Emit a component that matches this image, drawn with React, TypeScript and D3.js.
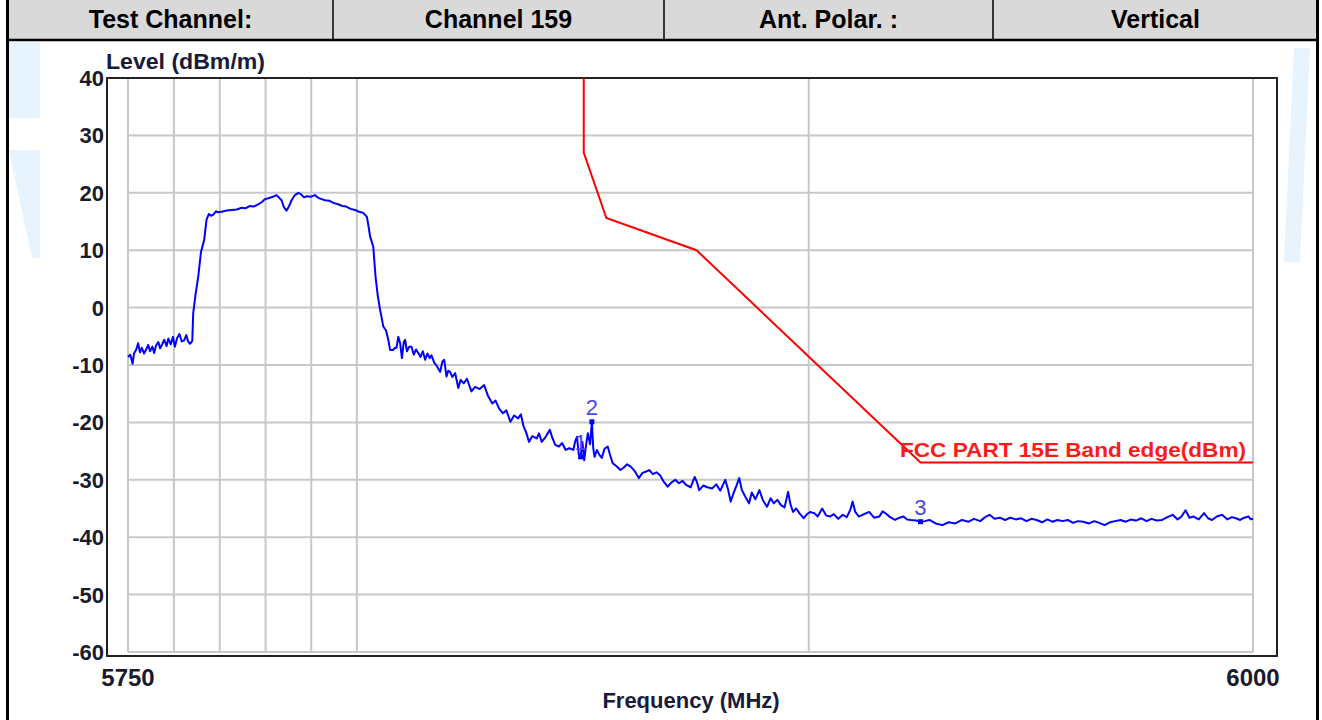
import React from 'react';
import * as d3 from 'd3';

// header row of the test report
const headerCells = ['Test Channel:', 'Channel 159', 'Ant. Polar. :', 'Vertical'];

// axis ticks
const levelTicks = [40, 30, 20, 10, 0, -10, -20, -30, -40, -50, -60];
const freqGrid = [5750, 5760, 5770, 5780, 5790, 5800, 5900, 6000];
const freqLabels = [5750, 6000];

// FCC part 15E band edge limit (dBm)
const limitLine = [
  [5850, 60], [5850, 27], [5855, 15.6], [5875, 10], [5925, -27], [6000, -27],
];

const lowerBand = [
  [5750.0, -8.6], [5750.5, -8.2], [5751.0, -9.8], [5751.3, -8.0], [5751.8, -7.3], [5752.2, -6.2],
  [5752.6, -7.8], [5753.0, -7.0], [5753.5, -8.0], [5754.0, -7.2], [5754.4, -6.5], [5754.8, -7.6],
  [5755.3, -6.8], [5755.7, -7.9], [5756.1, -6.6], [5756.6, -6.0], [5757.0, -7.1], [5757.5, -6.3],
  [5757.9, -5.6], [5758.4, -6.7], [5758.8, -5.4], [5759.3, -6.4], [5759.8, -5.1], [5760.2, -6.8],
  [5760.7, -5.3], [5761.2, -4.6], [5761.7, -5.9], [5762.2, -5.7], [5762.7, -4.8], [5763.1, -5.9],
  [5763.5, -6.3], [5764.0, -5.8], [5764.2, -1.0], [5764.7, 2.2], [5765.3, 5.4], [5765.9, 9.7],
  [5766.6, 11.8], [5767.1, 15.3], [5767.6, 16.3], [5768.1, 16.0], [5768.6, 16.2], [5769.2, 16.8],
];

const channelTop = [
  [5769.5, 16.6], [5770.4, 16.7], [5771.5, 16.9], [5772.6, 17.0], [5773.7, 17.1], [5774.8, 17.4],
  [5775.6, 17.3], [5776.5, 17.7], [5777.4, 17.6], [5778.4, 18.0], [5779.2, 18.4], [5779.9, 18.9],
  [5780.8, 19.1], [5781.6, 19.3], [5782.4, 19.6], [5782.9, 19.2], [5783.5, 18.7], [5784.0, 17.5],
  [5784.6, 16.9], [5785.1, 17.6], [5785.7, 18.7], [5786.4, 19.6], [5787.2, 20.0], [5787.8, 19.7],
  [5788.4, 19.2], [5789.0, 19.4], [5789.9, 19.3], [5790.8, 19.6], [5791.6, 19.1], [5792.3, 18.9],
  [5793.0, 18.7], [5794.0, 18.6], [5795.0, 18.2], [5795.9, 18.0], [5796.8, 17.7], [5797.7, 17.6],
  [5798.6, 17.2], [5799.6, 17.0], [5800.5, 16.7], [5801.4, 16.5], [5802.2, 15.8], [5802.6, 14.0],
  [5802.9, 12.4], [5803.3, 11.4], [5803.6, 10.6], [5804.1, 5.4], [5804.6, 2.0], [5805.1, -0.4],
  [5805.5, -2.0], [5805.8, -3.3],
];

const upperSkirt = [
  [5806.4, -4.0], [5806.9, -5.6], [5807.3, -7.4], [5807.9, -7.4], [5808.4, -7.0], [5808.7, -7.0],
  [5809.1, -5.1], [5809.5, -6.2], [5809.9, -8.8], [5810.3, -6.0], [5810.6, -5.6], [5811.0, -7.6],
  [5811.5, -6.8], [5812.0, -6.8], [5812.5, -8.2], [5813.0, -7.3], [5813.5, -7.9], [5814.0, -8.6],
  [5814.5, -7.6], [5815.0, -9.1], [5815.5, -8.0], [5816.0, -8.8], [5816.4, -8.3], [5817.0, -9.6],
  [5817.6, -10.2], [5818.3, -11.2], [5818.8, -9.4], [5819.2, -9.1], [5819.7, -12.0], [5820.1, -11.0],
  [5820.5, -11.2], [5821.0, -12.1], [5821.6, -11.4], [5822.3, -14.0], [5822.8, -12.6], [5823.5, -13.2],
  [5824.2, -12.4], [5825.2, -14.6], [5826.0, -13.8], [5827.0, -14.2], [5828.0, -13.5], [5828.8, -15.3],
  [5829.8, -16.7], [5830.5, -16.2], [5831.3, -17.6], [5832.1, -18.4], [5832.9, -17.9], [5833.8, -19.9],
  [5834.6, -18.8], [5835.5, -19.3], [5836.1, -18.6], [5836.7, -20.7], [5837.3, -21.8], [5837.9, -23.4],
  [5838.6, -22.4], [5839.6, -22.8], [5840.1, -21.9], [5840.7, -23.4], [5841.5, -22.6], [5842.5, -21.3],
  [5843.1, -22.8], [5843.7, -23.9], [5844.5, -24.2], [5845.2, -23.6], [5846.0, -24.8], [5846.8, -24.5],
  [5847.7, -24.8], [5848.1, -23.3], [5848.5, -22.5], [5848.9, -25.6], [5849.3, -26.0], [5849.7, -23.4],
  [5850.1, -26.6], [5850.5, -24.0], [5850.9, -21.9], [5851.4, -23.8], [5851.8, -19.9], [5852.1, -24.5],
  [5852.4, -26.0], [5852.9, -24.8], [5853.5, -25.7], [5854.0, -26.2], [5854.6, -24.6], [5855.3, -24.2],
  [5855.8, -25.6], [5856.4, -27.1], [5857.2, -27.6], [5858.1, -28.3], [5858.8, -27.9], [5859.6, -27.3],
  [5860.4, -27.7], [5861.3, -28.5], [5862.2, -29.7], [5863.0, -28.8], [5863.7, -28.6], [5864.5, -28.3],
  [5865.3, -29.0], [5866.1, -28.7], [5866.9, -29.2], [5867.7, -30.3], [5868.6, -31.2], [5869.4, -30.5],
  [5870.3, -30.0], [5871.1, -30.6], [5871.9, -30.2], [5872.7, -30.9], [5873.7, -31.3], [5874.6, -29.5],
  [5875.1, -30.4], [5875.6, -31.8], [5876.5, -31.0], [5877.4, -31.3], [5878.5, -31.5], [5879.4, -30.8],
  [5880.3, -31.9], [5881.4, -30.0], [5882.0, -31.6], [5882.6, -33.8], [5883.2, -32.4], [5883.9, -31.0],
  [5884.5, -29.7], [5885.1, -31.8], [5885.9, -33.0], [5886.7, -34.1], [5887.3, -32.2], [5888.1, -33.4],
  [5889.0, -31.8], [5889.8, -33.6], [5890.7, -34.7], [5891.5, -33.2], [5892.2, -34.1], [5893.0, -33.5],
  [5893.8, -34.4], [5894.6, -34.8], [5895.4, -32.1], [5895.9, -34.2], [5896.5, -35.6], [5897.2, -35.0],
  [5898.0, -35.9], [5898.9, -36.7], [5899.6, -36.0],
];

const noiseFloor = [
  [5900.3, -35.6], [5901.2, -35.8], [5902.0, -36.4], [5903.0, -35.0], [5903.9, -36.2], [5904.7, -36.4],
  [5905.6, -36.0], [5906.6, -36.8], [5907.6, -36.1], [5908.5, -36.5], [5909.3, -35.2], [5909.8, -33.8],
  [5910.4, -35.6], [5911.2, -36.4], [5912.3, -36.0], [5913.5, -35.6], [5914.6, -36.6], [5915.8, -36.4],
  [5916.5, -35.5], [5917.1, -35.8], [5918.2, -36.5], [5919.3, -37.0], [5920.3, -36.6], [5921.2, -36.4],
  [5922.0, -36.9], [5922.9, -37.0], [5924.0, -37.1], [5925.0, -37.3], [5926.0, -37.2], [5927.0, -37.0],
  [5928.4, -37.6], [5929.9, -37.9], [5931.3, -37.4], [5932.8, -37.6], [5934.3, -37.0], [5935.8, -37.3],
  [5937.0, -36.8], [5938.4, -37.2], [5939.5, -36.5], [5940.5, -36.1], [5941.6, -36.8], [5942.8, -36.6],
  [5944.0, -37.0], [5945.2, -36.6], [5946.4, -36.9], [5947.6, -36.7], [5948.8, -37.2], [5949.9, -36.8],
  [5951.1, -37.0], [5952.3, -37.4], [5953.5, -36.9], [5954.6, -37.3], [5955.8, -37.0], [5957.0, -37.2],
  [5958.1, -37.0], [5959.3, -37.5], [5960.4, -37.2], [5961.6, -37.3], [5962.9, -37.6], [5964.1, -37.2],
  [5965.2, -37.5], [5966.4, -37.9], [5967.6, -37.4], [5968.8, -37.2], [5970.0, -37.0], [5971.2, -37.3],
  [5972.4, -36.9], [5973.5, -37.1], [5974.7, -36.7], [5975.9, -37.2], [5977.0, -36.8], [5978.2, -37.1],
  [5979.4, -37.0], [5980.6, -36.5], [5981.8, -36.1], [5982.9, -36.9], [5983.8, -36.4], [5984.7, -35.3],
  [5985.6, -36.6], [5986.5, -36.4], [5987.7, -36.9], [5988.9, -35.8], [5989.8, -36.7], [5990.7, -37.0],
  [5991.8, -36.4], [5993.0, -36.1], [5994.2, -36.9], [5995.2, -36.5], [5996.1, -36.7], [5997.1, -37.0],
  [5998.0, -36.6], [5999.0, -36.4], [5999.5, -36.9], [6000.0, -36.8],
];

const markers = [
  { label: '1', f: 5849.3, v: -26.0 },
  { label: '2', f: 5851.8, v: -19.9 },
  { label: '3', f: 5925.0, v: -37.3 },
];

const FONT = 'Arial, "Liberation Sans", sans-serif';

export default function App() {
  const width = 1322;
  const height = 720;
  const plot = { left: 128, right: 1253, top: 78, bottom: 652 };

  const x = d3.scaleLog().domain([5750, 6000]).range([plot.left, plot.right]);
  const y = d3.scaleLinear().domain([-60, 40]).range([plot.bottom, plot.top]);

  const trace = [...lowerBand, ...channelTop, ...upperSkirt, ...noiseFloor];
  const line = d3.line().x(d => x(d[0])).y(d => y(d[1]));

  const colX = [8, 333, 664, 993, 1318];

  return (
    <svg width={width} height={height} style={{ position: 'absolute', left: 0, top: 0, background: '#fff' }}
      fontFamily={FONT}>
      {/* watermark */}
      <polygon points="9,42 40,42 40,118 9,118" fill="#e8f4fd" />
      <polygon points="9,150 40,150 40,258 32,258" fill="#e8f4fd" />
      <polygon points="1294,48 1310,48 1300,262 1284,262" fill="#e8f4fd" />

      {/* header table */}
      <rect x={8} y={0} width={1310} height={40} fill="#d9d9d9" />
      <line x1={8} x2={1318} y1={40} y2={40} stroke="#000" strokeWidth={2.5} />
      {colX.slice(1, 4).map(cx => (
        <line key={cx} x1={cx} x2={cx} y1={0} y2={40} stroke="#000" strokeWidth={1.5} />
      ))}
      {headerCells.map((t, i) => (
        <text key={t} x={(colX[i] + colX[i + 1]) / 2} y={28} textAnchor="middle"
          fontSize={25} fontWeight="bold" fill="#000">{t}</text>
      ))}
      <line x1={7.5} x2={7.5} y1={0} y2={height} stroke="#000" strokeWidth={3} />
      <line x1={1317.5} x2={1317.5} y1={0} y2={height} stroke="#000" strokeWidth={3} />

      {/* plot area */}
      <rect x={107} y={78} width={1170} height={578} fill="#fff" />
      <g stroke="#c8c8c8" strokeWidth={2}>
        {levelTicks.map(t => (
          <line key={'h' + t} x1={plot.left} x2={plot.right} y1={y(t)} y2={y(t)} />
        ))}
        {freqGrid.map(f => (
          <line key={'v' + f} x1={x(f)} x2={x(f)} y1={plot.top} y2={plot.bottom} />
        ))}
      </g>
      <rect x={107} y={78} width={1170} height={578} fill="none" stroke="#222" strokeWidth={2} />

      {/* axis labels */}
      {levelTicks.map(t => (
        <text key={'yl' + t} x={104} y={y(t)} dy="0.36em" textAnchor="end" fontSize={22}
          fontWeight="bold" fill="#1a1a2a">{t}</text>
      ))}
      {freqLabels.map(f => (
        <text key={'xl' + f} x={x(f)} y={686} textAnchor="middle" fontSize={24}
          fontWeight="bold" fill="#1a1a2a">{f}</text>
      ))}
      <text x={106} y={69} fontSize={22} fontWeight="bold" fill="#1a1a3a"
        textLength={159} lengthAdjust="spacingAndGlyphs">Level (dBm/m)</text>
      <text x={691} y={708} textAnchor="middle" fontSize={22} fontWeight="bold" fill="#1a1a3a">
        Frequency (MHz)
      </text>

      <defs>
        <clipPath id="plotClip">
          <rect x={plot.left} y={plot.top} width={plot.right - plot.left} height={plot.bottom - plot.top} />
        </clipPath>
      </defs>

      {/* limit */}
      <path d={line(limitLine)} fill="none" stroke="#ff0000" strokeWidth={2} clipPath="url(#plotClip)" />
      <text x={900} y={457} fontSize={21} fontWeight="bold" fill="#ff1a1a"
        textLength={346} lengthAdjust="spacingAndGlyphs">FCC PART 15E Band edge(dBm)</text>

      {/* trace */}
      <path d={line(trace)} fill="none" stroke="#0000ff" strokeWidth={2} strokeLinejoin="round" />

      {/* markers */}
      {markers.map(m => (
        <g key={m.label}>
          <rect x={x(m.f) - 2.5} y={y(m.v) - 2.5} width={5} height={5} fill="#0000ff" />
          <text x={x(m.f)} y={y(m.v) - 7} textAnchor="middle" fontSize={22} fill="#4646f0">{m.label}</text>
        </g>
      ))}
    </svg>
  );
}
